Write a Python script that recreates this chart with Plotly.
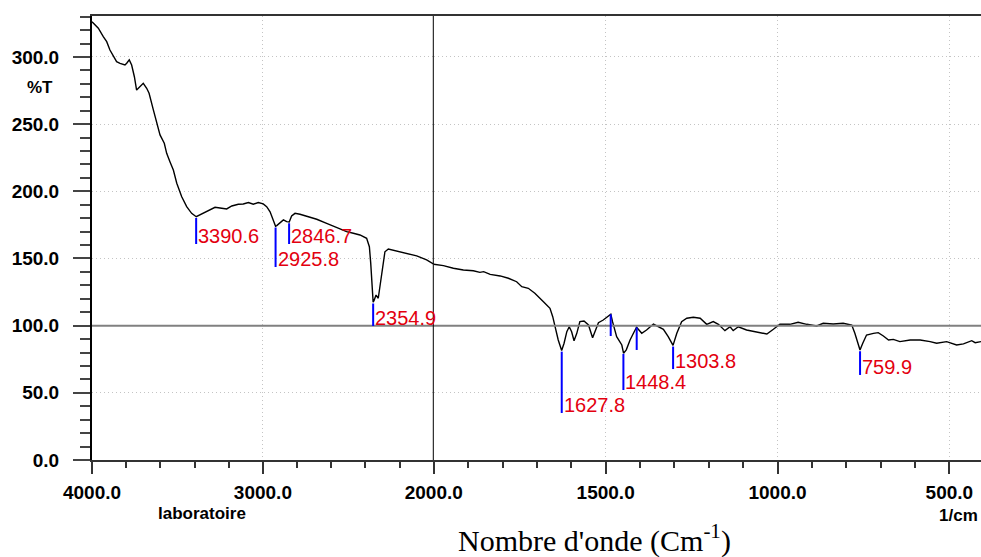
import numpy as np
import plotly.graph_objects as go

# FTIR spectrum (wavenumber in cm-1, transmittance in %T)
wavenumber = [
    4000, 3963, 3934, 3920, 3914, 3895, 3875, 3856, 3836, 3807, 3797, 3782, 3768,
    3752, 3739, 3719, 3700, 3680, 3666, 3641, 3621, 3602, 3577, 3563, 3544, 3524,
    3504, 3475, 3446, 3417, 3390, 3358, 3319, 3280, 3241, 3212, 3182, 3144, 3115,
    3085, 3056, 3027, 2998, 2978, 2958, 2939, 2926, 2919, 2900, 2880, 2861, 2846,
    2832, 2812, 2783, 2744, 2685, 2627, 2568, 2510, 2471, 2432, 2393, 2377, 2369,
    2363, 2357, 2355, 2350, 2338, 2325, 2315, 2305, 2295, 2286, 2266, 2217, 2159,
    2100, 2042, 2000, 1972, 1943, 1914, 1885, 1866, 1855, 1836, 1807, 1783, 1759,
    1744, 1725, 1706, 1681, 1662, 1654, 1647, 1638, 1628, 1621, 1613, 1606, 1599,
    1592, 1584, 1575, 1563, 1550, 1538, 1528, 1521, 1507, 1492, 1485, 1480, 1468,
    1453, 1448, 1440, 1429, 1417, 1410, 1395, 1381, 1361, 1347, 1332, 1318, 1304,
    1293, 1279, 1264, 1245, 1225, 1206, 1187, 1172, 1153, 1138, 1129, 1114, 1090,
    1061, 1031, 1012, 993, 964, 940, 915, 886, 867, 838, 809, 784, 775, 765, 760,
    752, 741, 721, 707, 692, 677, 663, 644, 614, 585, 556, 537, 508, 479, 459, 435,
    425, 408,
]
transmittance = [
    326.3, 321.4, 315.1, 313.0, 311.4, 305.2, 300.2, 296.5, 295.3, 294.0, 295.3, 297.8, 294.0,
    285.3, 275.4, 277.9, 280.4, 276.7, 273.0, 260.6, 250.6, 242.0, 235.8, 228.3, 222.1, 215.9,
    206.0, 196.0, 188.6, 183.6, 181.1, 183.1, 186.1, 188.1, 187.4, 186.9, 189.1, 190.4, 190.6,
    191.6, 190.4, 191.6, 190.6, 188.6, 184.8, 178.7, 174.0, 174.5, 176.7, 178.7, 177.4, 177.2,
    181.6, 183.6, 182.9, 181.6, 179.2, 176.2, 172.9, 170.0, 168.8, 167.5, 165.0, 158.8, 146.4,
    134.0, 124.1, 117.5, 118.5, 122.8, 120.4, 129.0, 139.0, 148.9, 155.0, 157.1, 155.6, 153.9,
    151.9, 148.9, 145.7, 144.7, 142.7, 141.4, 140.9, 139.7, 140.2, 138.2, 137.0, 135.3, 132.7,
    129.0, 127.8, 124.1, 117.8, 112.9, 106.7, 98.0, 89.3, 81.5, 86.9, 95.5, 99.2, 95.5,
    88.8, 94.3, 103.0, 103.5, 100.5, 91.0, 96.8, 102.2, 104.2, 107.2, 108.5, 103.0, 91.8,
    85.6, 79.5, 82.0, 89.3, 95.5, 98.8, 94.3, 96.8, 101.2, 99.2, 97.3, 91.8, 85.3,
    94.3, 103.0, 105.5, 106.3, 105.5, 101.0, 103.0, 101.0, 96.3, 99.2, 96.3, 99.2, 96.8,
    95.5, 93.8, 97.3, 101.0, 101.0, 102.5, 101.0, 99.8, 101.8, 101.2, 101.8, 100.5, 94.3, 85.6, 81.9,
    86.9, 93.0, 94.3, 94.8, 92.3, 89.3, 89.8, 88.1, 89.3, 89.3, 88.1, 86.9, 88.1, 85.6, 86.4, 88.8,
    87.3, 88.1,
]

# Labelled peaks and two unlabelled peak markers
peak_wn = [3390.6, 2925.8, 2846.7, 2354.9, 1627.8, 1448.4, 1303.8, 759.9]
extra_marks = [1485.3, 1409.7]

# Stem ends for the peak markers (%T), chosen so labels do not collide
peak_stem_end = [160.8, 143.7, 160.8, 99.8, 35.0, 52.1, 67.7, 63.3]
extra_stem_end = [92.3, 81.9]

y_ticks = [0, 50, 100, 150, 200, 250, 300]
split_wn = 2000.0
wn_end = 408.0
y_max = 330.5

wn = np.array(wavenumber, dtype=float)
tr = np.array(transmittance, dtype=float)
order = np.argsort(wn)
curve = lambda w: float(np.interp(w, wn[order], tr[order]))

high = wn >= split_wn
low = wn <= split_wn

fig = go.Figure()
line_style = dict(color="black", width=1.4)
fig.add_trace(go.Scatter(x=wn[high], y=tr[high], mode="lines", line=line_style,
                         xaxis="x", yaxis="y", showlegend=False, hoverinfo="x+y"))
fig.add_trace(go.Scatter(x=wn[low], y=tr[low], mode="lines", line=line_style,
                         xaxis="x2", yaxis="y", showlegend=False, hoverinfo="x+y"))

W, H = 981, 557
ml, mr, mt, mb = 92, 0, 16, 97
plot_w = W - ml - mr
left_frac = (433.8 - ml) / plot_w

tick_font = dict(family="Liberation Sans, Arial", size=19, color="black", weight="bold")
grid = dict(showgrid=True, gridcolor="#c4c4c4", gridwidth=1, griddash="1px,3px")

fig.update_layout(
    width=W, height=H,
    margin=dict(l=ml, r=mr, t=mt, b=mb, pad=0, autoexpand=False),
    paper_bgcolor="white", plot_bgcolor="white",
    showlegend=False,
    xaxis=dict(
        domain=[0, left_frac], range=[4000, split_wn], anchor="y", automargin=False,
        tickmode="array", tickvals=[4000, 3000, 2000], tickformat=".1f",
        ticks="outside", ticklen=12, tickwidth=2, tickcolor="#333",
        minor=dict(tickmode="linear", tick0=0, dtick=200, ticks="outside",
                   ticklen=6, tickwidth=2, tickcolor="#333", showgrid=False),
        showline=True, linecolor="#333", linewidth=2, mirror=True,
        tickfont=tick_font, ticklabelstandoff=2, zeroline=False, **grid,
    ),
    xaxis2=dict(
        domain=[left_frac, 1], range=[split_wn, wn_end], anchor="y", automargin=False,
        tickmode="array", tickvals=[1500, 1000, 500], tickformat=".1f",
        ticks="outside", ticklen=12, tickwidth=2, tickcolor="#333",
        minor=dict(tickmode="linear", tick0=0, dtick=100, ticks="outside",
                   ticklen=6, tickwidth=2, tickcolor="#333", showgrid=False),
        showline=True, linecolor="#333", linewidth=2, mirror=True,
        tickfont=tick_font, ticklabelstandoff=2, zeroline=False, **grid,
    ),
    yaxis=dict(
        domain=[0, 1], range=[0, y_max], anchor="x", automargin=False,
        tickmode="array", tickvals=y_ticks, tickformat=".1f",
        ticks="outside", ticklen=17, tickwidth=2, tickcolor="#444",
        minor=dict(tickmode="linear", tick0=0, dtick=10, ticks="outside",
                   ticklen=10, tickwidth=2, tickcolor="#444", showgrid=False),
        showline=True, linecolor="black", linewidth=2,
        tickfont=tick_font, ticklabelstandoff=10, zeroline=False, **grid,
    ),
)

shapes = []
# 100 %T reference line and the scale break at 2000 cm-1
shapes.append(dict(type="line", xref="paper", yref="y", x0=0, x1=1, y0=100, y1=100,
                   line=dict(color="#808080", width=2), layer="above"))
shapes.append(dict(type="line", xref="x", yref="paper", x0=split_wn, x1=split_wn, y0=0, y1=1,
                   line=dict(color="black", width=2), layer="above"))


def axis_for(w):
    return "x" if w > split_wn else "x2"


annotations = []
label_font = dict(family="Liberation Sans, Arial", size=20, color="#e3000f")
for w, end in zip(peak_wn, peak_stem_end):
    top = curve(w) - 1.0
    ax = axis_for(w)
    shapes.append(dict(type="line", xref=ax, yref="y", x0=w, x1=w, y0=top, y1=end,
                       line=dict(color="#0000ff", width=2), layer="above"))
    annotations.append(dict(x=w, y=end, xref=ax, yref="y", text=f"{w:.1f}",
                            showarrow=False, xanchor="left", yanchor="middle",
                            xshift=0, yshift=8, font=label_font))
for w, end in zip(extra_marks, extra_stem_end):
    top = curve(w)
    ax = axis_for(w)
    shapes.append(dict(type="line", xref=ax, yref="y", x0=w, x1=w, y0=top, y1=end,
                       line=dict(color="#0000ff", width=2), layer="above"))

side_font = dict(family="Liberation Sans, Arial", size=17, color="black", weight="bold")
annotations += [
    dict(text="%T", xref="paper", yref="paper", x=-0.0585, y=0.838, showarrow=False,
         xanchor="center", yanchor="middle", font=side_font),
    dict(text="laboratoire", xref="paper", yref="paper", x=0.1237, y=-0.1216, showarrow=False,
         xanchor="center", yanchor="middle", font=side_font),
    dict(text="1/cm", xref="paper", yref="paper", x=0.9989, y=-0.1239, showarrow=False,
         xanchor="right", yanchor="middle", font=side_font),
    dict(text="Nombre d'onde (Cm<sup>-1</sup>)", xref="paper", yref="paper",
         x=0.5658, y=-0.176, showarrow=False, xanchor="center", yanchor="middle",
         font=dict(family="Liberation Serif, Times New Roman", size=30, color="black")),
]

fig.update_layout(shapes=shapes, annotations=annotations)
fig.write_html("out.html")
